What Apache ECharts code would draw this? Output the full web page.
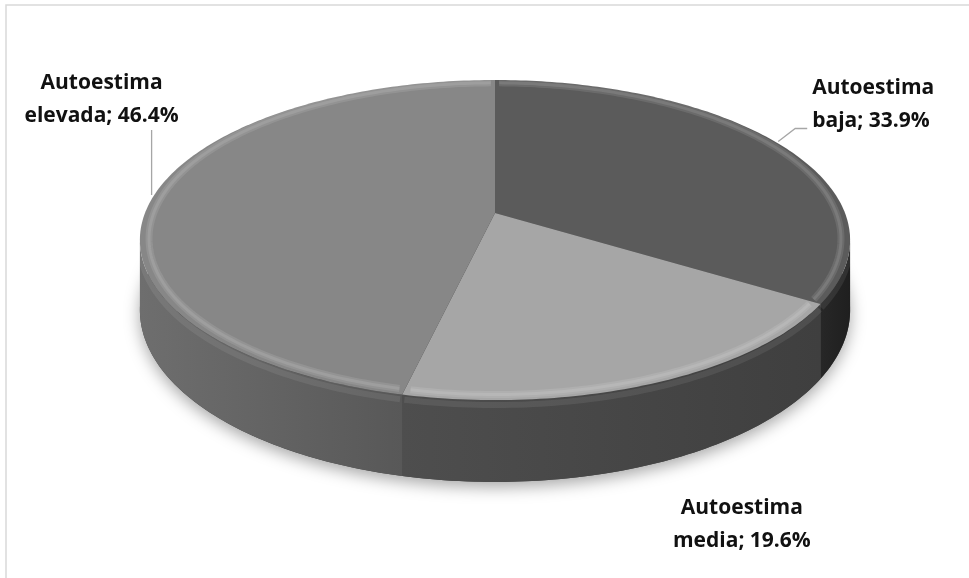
<!DOCTYPE html>
<html>
<head>
<meta charset="utf-8">
<script src="https://cdn.jsdelivr.net/npm/echarts@6/dist/echarts.min.js"></script>
<style>
  html, body { margin: 0; padding: 0; background: #fff; }
  #chart { width: 969px; height: 578px; }
</style>
</head>
<body>
<div id="chart"></div>
<script>
// ---- data ----
const categories = ['Autoestima baja', 'Autoestima media', 'Autoestima elevada'];
const values = [33.9, 19.6, 46.4];

// ---- styles ----
const topColors = ['#5b5b5b', '#a6a6a6', '#878787'];
const sideColors = [['#272727', '#1f1f1f'], ['#4e4e4e', '#3f3f3f'], ['#6e6e6e', '#585858']];
// label placement relative to each slice's mid-rim point
const labelLayout = [
  { dx: 34, dy: -39, align: 'left', leader: [[0, -2], [17, -15], [29, -15]] },
  { dx: 88, dy: 141, align: 'center', leader: null },
  { dx: -52, dy: -96, align: 'center', leader: [[-2, -1], [-2, -66]] }
];
// 3D pie projection parameters
const geo = { cx: 495, cy: 213, A: 350, B: 155.5, D: 68, k: 0.169 };

const total = values.reduce((a, b) => a + b, 0);
const rad = d => d * Math.PI / 180;

function proj(deg, depth, r) {
  r = r == null ? 1 : r;
  const X = Math.sin(rad(deg)) * r, Z = Math.cos(rad(deg)) * r;
  const w = 1 + geo.k * Z;
  return [geo.cx + geo.A * X / w, geo.cy - geo.B * Z / w + depth * geo.D / w];
}
function arc(a0, a1, depth, r) {
  const pts = [];
  const n = Math.max(2, Math.ceil(Math.abs(a1 - a0)));
  for (let j = 0; j <= n; j++) pts.push(proj(a0 + (a1 - a0) * j / n, depth, r));
  return pts;
}

function renderItem(params, api) {
  const i = params.dataIndex;
  const v = api.value(0);
  let before = 0;
  for (let j = 0; j < i; j++) before += values[j];
  const start = before / total * 360;
  const end = (before + v) / total * 360;
  const children = [];

  if (i === 0) {
    children.push({
      type: 'polygon', z2: 0,
      shape: { points: arc(0, 360, 1) },
      style: { fill: '#444', shadowBlur: 16, shadowOffsetY: 5, shadowColor: 'rgba(0,0,0,0.35)' }
    });
  }
  // side wall (front visible part)
  const lo = Math.acos(-geo.k) * 180 / Math.PI, hi = 360 - lo;
  const s = Math.max(start, lo), e = Math.min(end, hi);
  if (s < e) {
    const pts = arc(s, e, 0).concat(arc(e, s, 1));
    children.push({
      type: 'polygon', z2: 1,
      shape: { points: pts },
      style: {
        fill: new echarts.graphic.LinearGradient(0, 0, 1, 0, [
          { offset: 0, color: sideColors[i][0] }, { offset: 1, color: sideColors[i][1] }
        ])
      }
    });
    // soft bevel along the upper edge of the side
    children.push({
      type: 'polyline', z2: 1.5,
      shape: { points: arc(s + 0.3, e - 0.3, 0.06) },
      style: { stroke: 'rgba(255,255,255,0.08)', lineWidth: 6, fill: 'none' }
    });
  }
  // top face
  children.push({
    type: 'polygon', z2: 2,
    shape: { points: [[geo.cx, geo.cy]].concat(arc(start, end, 0)) },
    style: { fill: topColors[i] }
  });
  // rim highlight (soft)
  children.push({
    type: 'polyline', z2: 3,
    shape: { points: arc(start + 0.8, end - 0.8, 0, 0.975) },
    style: { stroke: 'rgba(255,255,255,0.10)', lineWidth: 7, fill: 'none' }
  });
  children.push({
    type: 'polyline', z2: 3.1,
    shape: { points: arc(start + 0.8, end - 0.8, 0, 0.975) },
    style: { stroke: 'rgba(255,255,255,0.10)', lineWidth: 3, fill: 'none' }
  });
  // label
  const mid = proj((start + end) / 2, 0);
  const L = labelLayout[i];
  const name = categories[i];
  const sp = name.indexOf(' ');
  const text = name.slice(0, sp) + '\n' + name.slice(sp + 1) + '; ' + v.toFixed(1) + '%';
  children.push({
    type: 'text', z2: 5,
    style: {
      text: text, x: mid[0] + L.dx, y: mid[1] + L.dy,
      fill: '#111', font: 'bold 21px "Open Sans"', align: L.align, verticalAlign: 'middle', lineHeight: 33
    }
  });
  if (L.leader) {
    children.push({
      type: 'polyline', z2: 4,
      shape: { points: L.leader.map(p => [mid[0] + p[0], mid[1] + p[1]]) },
      style: { stroke: '#a6a6a6', lineWidth: 1.3, fill: 'none' }
    });
  }
  return { type: 'group', children: children };
}

const chart = echarts.init(document.getElementById('chart'));
chart.setOption({
  animation: false,
  backgroundColor: '#fff',
  graphic: [{
    type: 'rect', shape: { x: 6, y: 5, width: 1000, height: 600 },
    style: { fill: 'none', stroke: '#d9d9d9', lineWidth: 1.5 }, silent: true
  }],
  series: [{
    type: 'custom',
    coordinateSystem: 'none',
    renderItem: renderItem,
    data: values
  }]
});
</script>
</body>
</html>
